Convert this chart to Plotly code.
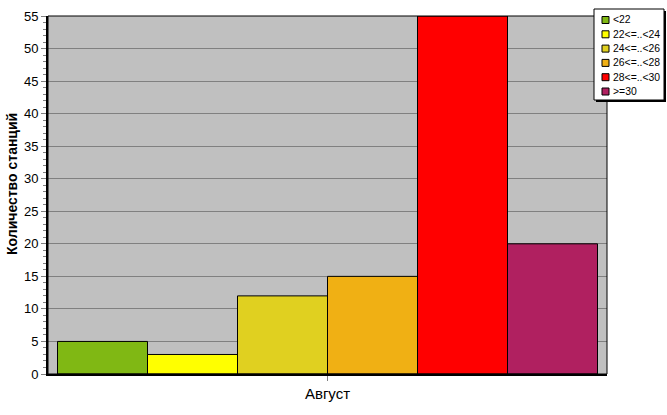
import plotly.graph_objects as go

categories = ["Август"]
series_names = ["<22", "22<=..<24", "24<=..<26", "26<=..<28", "28<=..<30", ">=30"]
series_values = [5, 3, 12, 15, 55, 20]
series_colors = ["#80B814", "#FFFF00", "#E0D020", "#F0B014", "#FF0000", "#B02060"]
y_title = "Количество станций"

FW, FH = 667, 415
# plot area in pixels
L, R, T, B = 48, 607, 16, 374
W, H = R - L, B - T

def px_x(p):
    return (p - L) / W

def px_y(p):
    return (B - p) / H

fig = go.Figure()
for name, val, col in zip(series_names, series_values, series_colors):
    fig.add_trace(go.Bar(
        x=categories, y=[val], name=name,
        marker=dict(color=col, line=dict(color="black", width=1)),
    ))

fig.update_layout(
    width=FW, height=FH,
    margin=dict(l=L, r=FW - R, t=T, b=FH - B, autoexpand=False),
    paper_bgcolor="white", plot_bgcolor="#C0C0C0",
    barmode="group", bargap=0.034, bargroupgap=0,
    font=dict(family="Arial, Liberation Sans", size=12, color="black"),
    showlegend=False,
)
fig.update_yaxes(
    range=[0, 55], dtick=5, showgrid=True, gridcolor="#808080", gridwidth=1,
    showline=True, linecolor="black", linewidth=2,
    ticks="outside", ticklen=5, tickcolor="#808080",
    minor=dict(dtick=1, ticks="outside", ticklen=3, tickcolor="#808080", showgrid=False),
    zeroline=False,
    tickfont=dict(size=13),
)
fig.update_xaxes(
    showline=True, linecolor="black", linewidth=2,
    ticks="outside", ticklen=5, tickcolor="#808080",
    tickfont=dict(size=15),
)
fig.add_shape(type="rect", xref="paper", yref="paper", x0=0, y0=0, x1=1, y1=1,
              line=dict(color="black", width=1), fillcolor="rgba(0,0,0,0)", layer="above")

# y-axis title
fig.add_annotation(text="<b>" + y_title + "</b>", xref="paper", yref="paper",
                   x=px_x(12), y=px_y(184), textangle=-90, showarrow=False,
                   font=dict(size=14), xanchor="center", yanchor="middle")

# legend (drawn manually to match the original compact box)
lx0, lx1, ly0, ly1 = 594, 664, 9, 100
fig.add_shape(type="rect", xref="paper", yref="paper",
              x0=px_x(lx0 + 2), x1=px_x(lx1 + 2), y0=px_y(ly1 + 2), y1=px_y(ly0 + 2),
              line=dict(width=0), fillcolor="black", layer="above")
fig.add_shape(type="rect", xref="paper", yref="paper",
              x0=px_x(lx0), x1=px_x(lx1), y0=px_y(ly1), y1=px_y(ly0),
              line=dict(color="black", width=1), fillcolor="white", layer="above")
row0, step = 20, 14.3
for i, (name, col) in enumerate(zip(series_names, series_colors)):
    cy = row0 + i * step
    fig.add_shape(type="rect", xref="paper", yref="paper",
                  x0=px_x(602), x1=px_x(609), y0=px_y(cy + 3.5), y1=px_y(cy - 3.5),
                  line=dict(color="black", width=1), fillcolor=col, layer="above")
    fig.add_annotation(text=name, xref="paper", yref="paper",
                       x=px_x(611), y=px_y(cy), xanchor="left", yanchor="middle",
                       showarrow=False, font=dict(size=10.4))

fig.write_html(
    "out.html",
    config={"displayModeBar": False},
    post_script="document.body.style.margin='0';document.body.style.overflow='hidden';",
)
